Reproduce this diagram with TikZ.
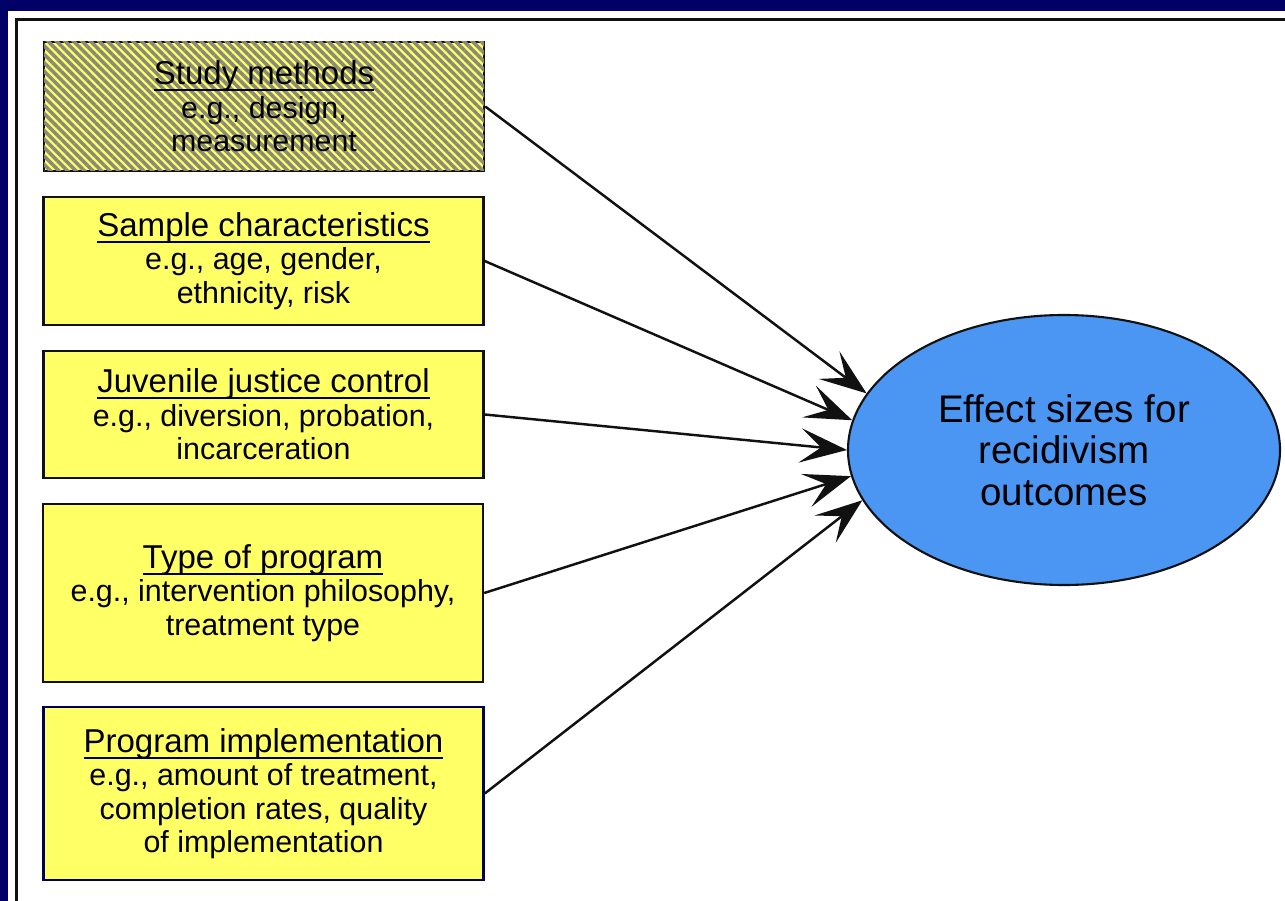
\documentclass[tikz,border=0pt]{standalone}
\usepackage{fontspec}
\setmainfont{Liberation Sans}
\usepackage{tikz}
\usetikzlibrary{arrows.meta,positioning,shapes.geometric,patterns.meta}
\usepackage{xcolor}
\definecolor{navy}{HTML}{000066}
\definecolor{boxyellow}{HTML}{FFFF66}
\definecolor{ovalblue}{HTML}{4A96F2}
\definecolor{hatchgray}{HTML}{8A8A78}
\definecolor{ink}{HTML}{111111}
% underlined heading line, rule set close under the baseline
\newsavebox{\hdbox}
\newcommand{\hd}[1]{\sbox{\hdbox}{\fontsize{18.8}{19}\selectfont #1}\usebox{\hdbox}\llap{\rule[-3.6pt]{\wd\hdbox}{1.1pt}}}
\tikzset{
  box/.style={draw=ink, line width=1.4pt, align=center, fill=boxyellow, minimum width=8.8cm, inner sep=1mm, font=\fontsize{17.3}{19}\selectfont},
  hatchbox/.style={box, postaction={pattern={Lines[angle=-45,distance=0.12cm,line width=0.07cm]}, pattern color=hatchgray}},
  navybox/.style={box, draw=navy!80!black},
  oval/.style={ellipse, draw=ink, line width=1.2pt, fill=ovalblue, minimum width=8.64cm, minimum height=5.4cm, align=center, font=\fontsize{21.9}{23.5}\selectfont},
  arrow/.style={-{Stealth[length=9.4mm, width=6.9mm, inset=4.2mm]}, line width=1.4pt, draw=ink}
}

\begin{document}
\begin{tikzpicture}
  \fill[navy] (0,0) rectangle (25.7,-18.02);
  \useasboundingbox (0,0) rectangle (25.7,-18.02);
  \fill[white] (0.16,-0.22) rectangle (25.7,-18.02);
  \draw[ink, line width=1.2pt] (0.33,-18.02) -- (0.33,-0.39) -- (25.7,-0.39);
  % predictor boxes
  \node[hatchbox, minimum height=2.58cm] (sm) at (5.28,-2.13) {\hd{Study methods}\\e.g., design,\\measurement};
  \node[box, minimum height=2.56cm] (sc) at (5.27,-5.22) {\hd{Sample characteristics}\\e.g., age, gender,\\ethnicity, risk};
  \node[box, minimum height=2.54cm] (jj) at (5.27,-8.29) {\hd{Juvenile justice control}\\e.g., diversion, probation,\\incarceration};
  \node[box, minimum height=3.56cm] (tp) at (5.26,-11.86) {\hd{Type of program}\\e.g., intervention philosophy,\\treatment type};
  \node[navybox, minimum height=3.46cm] (pi) at (5.27,-15.87) {\hd{Program implementation}\\e.g., amount of treatment,\\completion rates, quality\\of implementation};
  % outcome
  \node[oval] (es) at (21.28,-9.0) {Effect sizes for\\recidivism\\outcomes};
  \draw[arrow] (sm.east) -- (es.164.7);
  \draw[arrow] (sc.east) -- (es.172.7);
  \draw[arrow] (jj.east) -- (es.180.8);
  \draw[arrow] (tp.east) -- (es.187.5);
  \draw[arrow] (pi.east) -- (es.194.8);
\end{tikzpicture}
\end{document}
